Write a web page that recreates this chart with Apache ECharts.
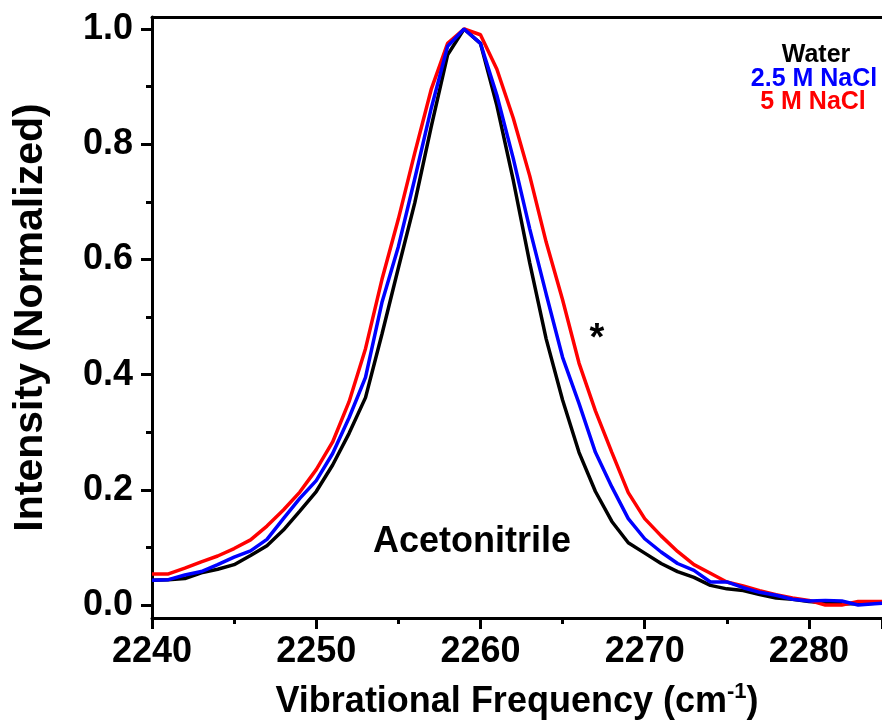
<!DOCTYPE html>
<html>
<head>
<meta charset="utf-8">
<title>Acetonitrile CN stretch</title>
<script src="https://cdn.jsdelivr.net/npm/echarts@6/dist/echarts.min.js"></script>
<style>
  html, body { margin: 0; padding: 0; background: #fff; }
  #chart { width: 882px; height: 727px; }
</style>
</head>
<body>
<div id="chart"></div>
<script>
// Wavenumber grid (cm^-1)
const frequency = [2240,2241,2242,2243,2244,2245,2246,2247,2248,2249,
                   2250,2251,2252,2253,2254,2255,2256,2257,2258,2259,
                   2260,2261,2262,2263,2264,2265,2266,2267,2268,2269,
                   2270,2271,2272,2273,2274,2275,2276,2277,2278,2279,
                   2280,2281,2282,2283,2284,2285];

// Normalized intensities
const water = [0.043,0.044,0.046,0.056,0.062,0.070,0.086,0.103,0.130,0.163,
               0.197,0.243,0.298,0.360,0.470,0.585,0.698,0.830,0.955,1.000,
               0.975,0.867,0.737,0.594,0.462,0.356,0.265,0.197,0.145,0.108,
               0.090,0.072,0.058,0.048,0.034,0.028,0.025,0.018,0.012,0.010,
               0.006,0.004,0.002,0.002,0.003,0.004];

const nacl25 = [0.043,0.044,0.052,0.058,0.070,0.083,0.094,0.114,0.150,0.185,
                0.216,0.263,0.325,0.395,0.525,0.622,0.740,0.862,0.970,1.000,
                0.975,0.885,0.775,0.653,0.540,0.430,0.350,0.265,0.205,0.150,
                0.115,0.092,0.072,0.060,0.040,0.040,0.030,0.022,0.017,0.010,
                0.007,0.008,0.007,0.000,0.002,0.004];

const nacl5 = [0.054,0.054,0.064,0.075,0.085,0.098,0.113,0.137,0.165,0.196,
               0.235,0.283,0.353,0.445,0.565,0.670,0.785,0.895,0.975,1.000,
               0.990,0.930,0.845,0.745,0.630,0.530,0.420,0.337,0.265,0.195,
               0.150,0.120,0.093,0.070,0.055,0.040,0.033,0.025,0.018,0.012,
               0.008,0.000,0.000,0.006,0.006,0.006];

const yMajorTicks = [0, 0.2, 0.4, 0.6, 0.8, 1.0];
const yMinorTicks = [0.1, 0.3, 0.5, 0.7, 0.9];

const FONT = '"Liberation Sans", Arial, Helvetica, sans-serif';

function pairs(xs, ys) {
  return xs.map((x, i) => [x, ys[i]]);
}

const chart = echarts.init(document.getElementById('chart'), null, { renderer: 'canvas' });

const X_MIN = 2240, X_MAX = 2284.45;
const Y_MIN = -0.0226, Y_MAX = 1.0208;

chart.setOption({
  animation: false,
  backgroundColor: '#ffffff',
  grid: { left: 152, top: 17, right: 0, bottom: 109, containLabel: false, outerBoundsMode: 'none' },
  xAxis: [
    {
      type: 'value', position: 'bottom',
      min: X_MIN, max: X_MAX, interval: 10,
      axisLine: { show: true, onZero: false, lineStyle: { color: '#000', width: 3 } },
      axisTick: { show: true, inside: false, length: 11, lineStyle: { color: '#000', width: 3 } },
      minorTick: { show: true, splitNumber: 2, length: 6, lineStyle: { color: '#000', width: 3 } },
      splitLine: { show: false },
      axisLabel: {
        show: true, margin: 16, color: '#000',
        fontFamily: FONT, fontWeight: 'bold', fontSize: 36,
        formatter: v => (v <= X_MAX ? String(v) : '')
      },
      name: 'Vibrational Frequency (cm{sup|-1})',
      nameLocation: 'middle', nameGap: 63,
      nameTextStyle: {
        color: '#000', fontFamily: FONT, fontWeight: 'bold', fontSize: 36,
        rich: {
          sup: { fontFamily: FONT, fontWeight: 'bold', fontSize: 22, verticalAlign: 'top', padding: [0, 0, 20, 0], color: '#000' }
        }
      }
    },
    {
      type: 'value', position: 'top',
      min: X_MIN, max: X_MAX, interval: 10,
      axisLine: { show: true, onZero: false, lineStyle: { color: '#000', width: 3 } },
      axisTick: { show: false },
      axisLabel: { show: false },
      splitLine: { show: false }
    }
  ],
  yAxis: [
    {
      type: 'value', position: 'left',
      min: Y_MIN, max: Y_MAX,
      axisLine: { show: true, onZero: false, lineStyle: { color: '#000', width: 3 } },
      axisTick: { show: true, inside: false, length: 11, customValues: yMajorTicks, lineStyle: { color: '#000', width: 3 } },
      axisLabel: {
        show: true, margin: 19, color: '#000', customValues: yMajorTicks,
        fontFamily: FONT, fontWeight: 'bold', fontSize: 36,
        formatter: v => v.toFixed(1)
      },
      splitLine: { show: false },
      name: 'Intensity (Normalized)',
      nameLocation: 'middle', nameGap: 101, nameRotate: 90,
      nameTextStyle: { color: '#000', fontFamily: FONT, fontWeight: 'bold', fontSize: 41 }
    },
    {
      type: 'value', position: 'left',
      min: Y_MIN, max: Y_MAX,
      axisLine: { show: false },
      axisTick: { show: true, inside: false, length: 6, customValues: yMinorTicks, lineStyle: { color: '#000', width: 3 } },
      axisLabel: { show: false },
      splitLine: { show: false }
    }
  ],
  series: [
    {
      name: 'Water', type: 'line', xAxisIndex: 0, yAxisIndex: 0,
      data: pairs(frequency, water), showSymbol: false, symbol: 'none', clip: true,
      lineStyle: { color: '#000000', width: 3.5 }, z: 2
    },
    {
      name: '5 M NaCl', type: 'line', xAxisIndex: 0, yAxisIndex: 0,
      data: pairs(frequency, nacl5), showSymbol: false, symbol: 'none', clip: true,
      lineStyle: { color: '#ff0000', width: 3.5 }, z: 3
    },
    {
      name: '2.5 M NaCl', type: 'line', xAxisIndex: 0, yAxisIndex: 0,
      data: pairs(frequency, nacl25), showSymbol: false, symbol: 'none', clip: true,
      lineStyle: { color: '#0000ff', width: 3.5 }, z: 4
    }
  ],
  graphic: [
    { type: 'text', x: 816, y: 55, style: { text: 'Water', textAlign: 'center', textVerticalAlign: 'middle', fill: '#000', font: 'bold 25px ' + FONT } },
    { type: 'text', x: 814, y: 79, style: { text: '2.5 M NaCl', textAlign: 'center', textVerticalAlign: 'middle', fill: '#0000ff', font: 'bold 25px ' + FONT } },
    { type: 'text', x: 813, y: 102, style: { text: '5 M NaCl', textAlign: 'center', textVerticalAlign: 'middle', fill: '#ff0000', font: 'bold 25px ' + FONT } },
    { type: 'text', x: 472, y: 542, style: { text: 'Acetonitrile', textAlign: 'center', textVerticalAlign: 'middle', fill: '#000', font: 'bold 36px ' + FONT } },
    { type: 'text', x: 597, y: 340, style: { text: '*', textAlign: 'center', textVerticalAlign: 'middle', fill: '#000', font: 'bold 38px ' + FONT } }
  ]
});
</script>
</body>
</html>
